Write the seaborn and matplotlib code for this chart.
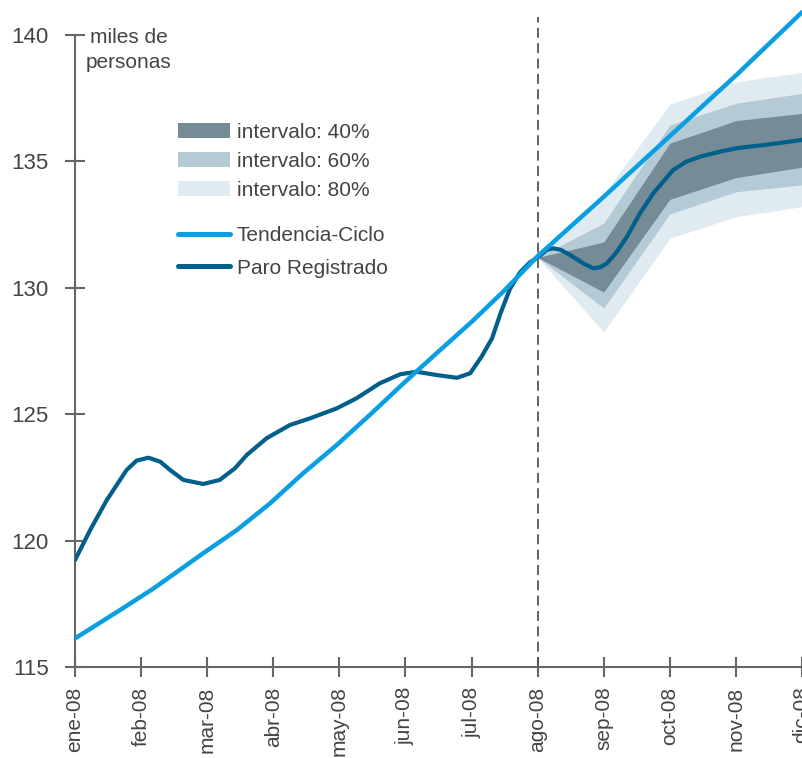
import pandas as pd
import matplotlib
matplotlib.use('Agg')
import matplotlib.pyplot as plt
from matplotlib.patches import Patch
from matplotlib.lines import Line2D
import seaborn as sns

# x positions are months from ene-08 (0) to dic-08 (11)
meses = ['ene-08', 'feb-08', 'mar-08', 'abr-08', 'may-08', 'jun-08',
         'jul-08', 'ago-08', 'sep-08', 'oct-08', 'nov-08', 'dic-08']

tend_x = [0, 0.68, 1.19, 1.94, 2.45, 2.95, 3.45, 3.96, 4.46, 4.97, 5.47,
          6, 6.5, 7, 8, 9, 10, 11]
tend_y = [116.13, 117.25, 118.11, 119.5, 120.42, 121.47, 122.66, 123.78,
          124.97, 126.22, 127.41, 128.65, 129.9, 131.25, 133.6, 136.0,
          138.4, 140.9]

paro_x = [0.0, 0.23, 0.48, 0.78, 0.93, 1.11, 1.29, 1.44, 1.64, 1.94, 2.19,
          2.42, 2.6, 2.9, 3.25, 3.56, 3.96, 4.26, 4.61, 4.92, 5.17, 5.47,
          5.78, 5.98, 6.15, 6.31, 6.44, 6.58, 6.73, 6.88, 7.0, 7.14, 7.24,
          7.35, 7.49, 7.69, 7.84, 7.95, 8.05, 8.2, 8.35, 8.55, 8.75, 9.05,
          9.25, 9.46, 9.75, 10.01, 10.52, 11.0]
paro_y = [119.23, 120.42, 121.6, 122.79, 123.16, 123.28, 123.12, 122.79,
          122.4, 122.24, 122.4, 122.86, 123.39, 124.05, 124.57, 124.84,
          125.23, 125.63, 126.22, 126.58, 126.68, 126.55, 126.44, 126.62,
          127.27, 128.0, 129.0, 129.95, 130.6, 131.0, 131.2, 131.5, 131.56,
          131.5, 131.3, 130.97, 130.77, 130.82, 130.97, 131.43, 132.02,
          132.95, 133.74, 134.66, 134.99, 135.19, 135.38, 135.52, 135.68,
          135.85]

# fan chart bands (ago-08 .. dic-08)
banda_x = [7, 8, 9, 10, 11]
b40_lo = [131.2, 129.83, 133.5, 134.36, 134.77]
b40_hi = [131.2, 131.81, 135.72, 136.61, 136.9]
b60_lo = [131.2, 129.2, 132.92, 133.8, 134.07]
b60_hi = [131.2, 132.56, 136.44, 137.3, 137.69]
b80_lo = [131.2, 128.25, 131.96, 132.81, 133.21]
b80_hi = [131.2, 133.7, 137.26, 138.15, 138.52]

c_tend = '#0a9fe0'
c_paro = '#005f8b'
c40 = '#758b96'
c60 = '#b4cad5'
c80 = '#e0ebf1'
gris = '#666666'
texto = '#444444'

sns.set_style('white')
plt.rcParams['font.family'] = ['Liberation Sans', 'DejaVu Sans']

df_tend = pd.DataFrame({'mes': tend_x, 'valor': tend_y})
df_paro = pd.DataFrame({'mes': paro_x, 'valor': paro_y})
df_banda = pd.DataFrame({'mes': banda_x, 'b40_lo': b40_lo, 'b40_hi': b40_hi,
                         'b60_lo': b60_lo, 'b60_hi': b60_hi,
                         'b80_lo': b80_lo, 'b80_hi': b80_hi})

fig = plt.figure(figsize=(8.03, 7.58), dpi=100)
ax = fig.add_axes([75/803, 91/758, 727/803, 667/758])

ax.fill_between(df_banda['mes'], df_banda['b80_lo'], df_banda['b80_hi'],
                color=c80, lw=0, zorder=1)
ax.fill_between(df_banda['mes'], df_banda['b60_lo'], df_banda['b60_hi'],
                color=c60, lw=0, zorder=1.1)
ax.fill_between(df_banda['mes'], df_banda['b40_lo'], df_banda['b40_hi'],
                color=c40, lw=0, zorder=1.2)

sns.lineplot(data=df_paro, x='mes', y='valor', color=c_paro, lw=3.0,
             ax=ax, zorder=3)
sns.lineplot(data=df_tend, x='mes', y='valor', color=c_tend, lw=3.2,
             ax=ax, zorder=4)

ax.vlines(7, 115, 140.7, colors='#555555', lw=1.3,
          linestyles=(0, (5.5, 3)), zorder=2)

ax.set_xlim(0, 11)
ax.set_ylim(115, 140 + 35/25.28)
ax.set_xticks(range(len(meses)))
ax.set_xticklabels(meses, rotation=90, fontsize=15, color=texto)
ax.set_yticks([115, 120, 125, 130, 135, 140])
ax.set_yticklabels(['115', '120', '125', '130', '135', '140'],
                   fontsize=16, color=texto)
ax.set_xlabel('')
ax.set_ylabel('')

for s in ['top', 'right']:
    ax.spines[s].set_visible(False)
for s in ['left', 'bottom']:
    ax.spines[s].set_color(gris)
    ax.spines[s].set_linewidth(1.5)
ax.spines['left'].set_bounds(115, 140)
ax.tick_params(axis='both', direction='inout', length=14, width=1.5,
               color=gris, bottom=True, left=True)
ax.tick_params(axis='y', pad=12)
ax.tick_params(axis='x', pad=7)
for lab in ax.get_xticklabels():
    lab.set_verticalalignment('top')

fig.text(129/803, 1 - 50/758, 'miles de\npersonas', ha='center',
         va='center', fontsize=15, color=texto, linespacing=1.35)

h1 = [Patch(facecolor=c40, lw=0), Patch(facecolor=c60, lw=0),
      Patch(facecolor=c80, lw=0)]
leg1 = ax.legend(h1, ['intervalo: 40%', 'intervalo: 60%', 'intervalo: 80%'],
                 loc='upper left', bbox_to_anchor=(178/803, 1 - 123/758),
                 bbox_transform=fig.transFigure, frameon=False, fontsize=15,
                 handlelength=2.5, handleheight=0.72, handletextpad=0.33,
                 labelspacing=0.48, borderpad=0, borderaxespad=0,
                 labelcolor=texto)
ax.add_artist(leg1)
h2 = [Line2D([0], [0], color=c_tend, lw=3.6),
      Line2D([0], [0], color=c_paro, lw=3.6)]
ax.legend(h2, ['Tendencia-Ciclo', 'Paro Registrado'],
          loc='upper left', bbox_to_anchor=(178/803, 1 - 226/758),
          bbox_transform=fig.transFigure, frameon=False, fontsize=15,
          handlelength=2.5, handletextpad=0.33, labelspacing=0.65,
          borderpad=0, borderaxespad=0, labelcolor=texto)

plt.savefig('out.png', dpi=100)
